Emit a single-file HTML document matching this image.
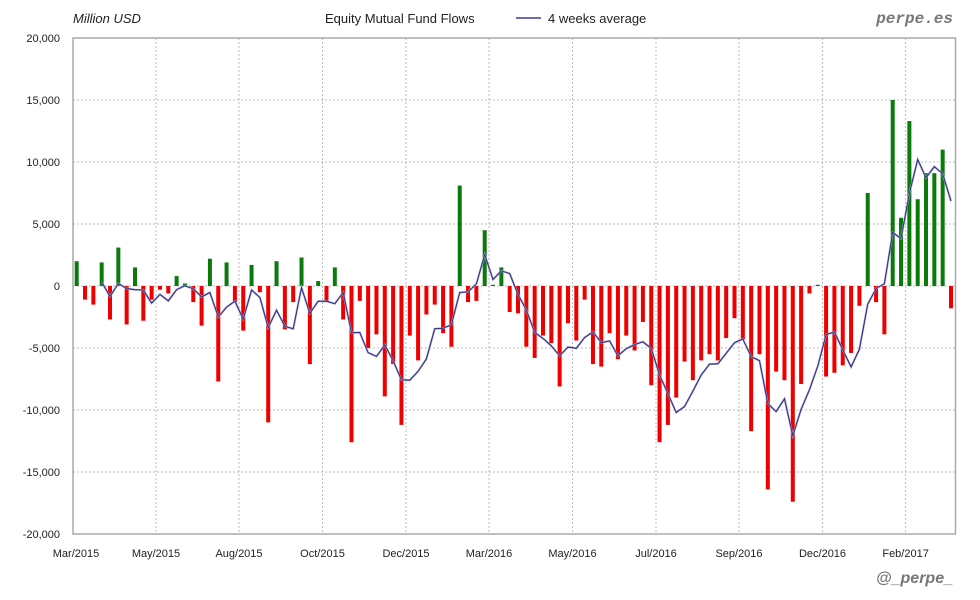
<!DOCTYPE html>
<html><head><meta charset="utf-8"><style>
body{margin:0;background:#fff;}
svg{display:block;font-family:"Liberation Sans",sans-serif;}
</style></head><body>
<svg id="c" width="980" height="600" xmlns="http://www.w3.org/2000/svg">
<rect width="980" height="600" fill="#fff"/>
<g id="grid"></g>
<g id="bars"></g>
<g id="line"></g>
<rect x="73" y="38" width="882.5" height="496" fill="none" stroke="#aaa" stroke-width="1.5"/>
<text x="73" y="23" font-size="13" font-style="italic" fill="#222">Million USD</text>
<text x="325" y="23" font-size="13" fill="#222">Equity Mutual Fund Flows</text>
<line x1="516" y1="18" x2="541" y2="18" stroke="#9999cc" stroke-width="2"/>
<line x1="516" y1="18" x2="541" y2="18" stroke="#222277" stroke-width="0.8"/>
<text x="548" y="23" font-size="13" fill="#222">4 weeks average</text>
<text x="953" y="23" font-size="16" font-weight="bold" font-style="italic" fill="#777" text-anchor="end" font-family="Liberation Mono, monospace">perpe.es</text>
<text x="953" y="583" font-size="16" font-weight="bold" font-style="italic" fill="#777" text-anchor="end">@_perpe_</text>
<g id="labels" font-size="11" fill="#222"></g>
</svg>
<script>
var v=[2.0,-1.1,-1.5,1.9,-2.7,3.1,-3.1,1.5,-2.8,-1.1,-0.3,-0.6,0.8,0.2,-1.3,-3.2,2.2,-7.7,1.9,-1.3,-3.6,1.7,-0.5,-11.0,2.0,-3.5,-1.3,2.3,-6.3,0.4,-1.3,1.5,-2.7,-12.6,-1.2,-5.0,-3.9,-8.9,
-6.3,-11.2,-4.0,-6.0,-2.3,-1.5,-3.8,-4.9,8.1,-1.3,-1.2,4.5,0.1,1.5,-2.1,-2.2,-4.9,-5.8,-4.0,-4.6,-8.1,-3.0,-4.4,-1.1,-6.3,-6.5,-3.8,-5.9,-4.0,-5.2,-2.9,-8.0,-12.6,-11.2,-9.0,
-6.1,-7.6,-6.0,-5.5,-6.0,-4.2,-2.6,-4.3,-11.7,-5.5,-16.4,-6.9,-7.6,-17.4,-7.9,-0.6,0.1,-7.3,-7.0,-6.4,-5.4,-1.6,7.5,-1.3,-3.9,15.0,5.5,13.3,7.0,9.1,9.1,11.0,-1.8];
var ns="http://www.w3.org/2000/svg";
function el(t,a,p){var e=document.createElementNS(ns,t);for(var k in a)e.setAttribute(k,a[k]);document.getElementById(p).appendChild(e);return e;}
var z=286,s=62/5;
function Y(val){return z-val*s;}
var gx=[156,239,322.5,406,489,572.5,656,739,822.5,905.6];
gx.forEach(function(x){el("line",{x1:x,y1:38,x2:x,y2:534,stroke:"#bbb","stroke-dasharray":"2,2"},"grid");});
for(var i=1;i<8;i++){var y=38+i*62;el("line",{x1:73,y1:y,x2:955,y2:y,stroke:"#bbb","stroke-dasharray":"2,2"},"grid");}
var yl=["20,000","15,000","10,000","5,000","0","-5,000","-10,000","-15,000","-20,000"];
yl.forEach(function(t,i){var e=el("text",{x:60,y:38+i*62+4,"text-anchor":"end"},"labels");e.textContent=t;});
var xl=["Mar/2015","May/2015","Aug/2015","Oct/2015","Dec/2015","Mar/2016","May/2016","Jul/2016","Sep/2016","Dec/2016","Feb/2017"];
var xp=[76].concat(gx);
xl.forEach(function(t,i){var e=el("text",{x:xp[i],y:557,"text-anchor":"middle"},"labels");e.textContent=t;});
var step=(951-76.7)/105,pts=[];
v.forEach(function(d,i){var x=76.7+i*step;var h=Math.abs(d)*s;
el("rect",{x:x-2,y:d>0?z-h:z,width:4,height:Math.max(h,1),fill:d>0?"#0a7a0a":"#ee0000"},"bars");
if(i>=3){var a=(v[i]+v[i-1]+v[i-2]+v[i-3])/4;pts.push(x.toFixed(1)+","+Y(a).toFixed(1));}});
el("polyline",{points:pts.join(" "),fill:"none",stroke:"#9999cc","stroke-width":2},"line");
el("polyline",{points:pts.join(" "),fill:"none",stroke:"#222277","stroke-width":0.8},"line");
</script>
</body></html>
